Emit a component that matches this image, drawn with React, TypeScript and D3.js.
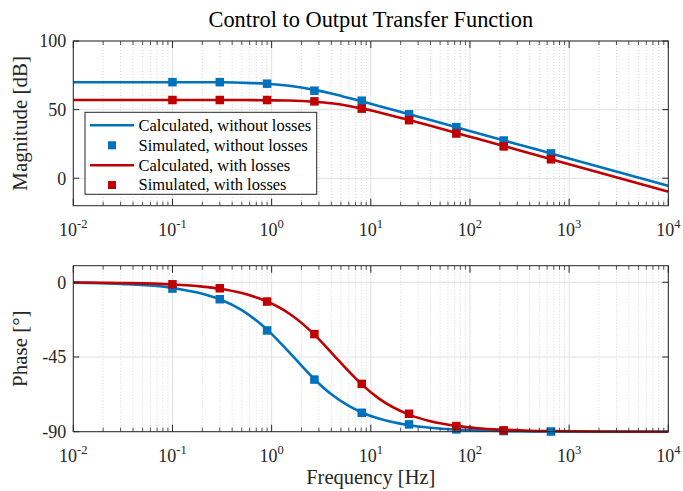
import React from 'react';
import * as d3 from 'd3';

// ---------- data ----------
const freqs = [0.01, 0.03, 0.1, 0.2, 0.3, 0.5, 0.9, 1.5, 2.7, 4, 6, 8.1, 12, 24.3, 40, 72.9, 120, 218.7, 400, 656.1, 2000, 10000];
const magCalcNoLoss = [70.0, 70.0, 70.0, 69.9, 69.9, 69.6, 68.9, 67.4, 64.4, 61.7, 58.5, 56.1, 52.7, 46.7, 42.4, 37.2, 32.8, 27.6, 22.4, 18.1, 8.4, -5.6];
const magCalcLoss = [57.0, 57.0, 57.0, 57.0, 57.0, 57.0, 56.8, 56.6, 55.7, 54.6, 52.7, 50.9, 48.1, 42.4, 38.2, 33.0, 28.7, 23.5, 18.2, 13.9, 4.2, -9.7];
const phaseCalcNoLoss = [-0.3, -1.0, -3.4, -6.9, -10.2, -16.8, -28.5, -42.1, -58.4, -67.5, -74.5, -78.4, -82.1, -86.1, -87.6, -88.7, -89.2, -89.6, -89.8, -89.9, -90.0, -90.0];
const phaseCalcLoss = [-0.1, -0.4, -1.3, -2.6, -3.9, -6.5, -11.6, -18.8, -31.5, -42.3, -53.7, -61.5, -69.9, -79.7, -83.7, -86.5, -87.9, -88.8, -89.4, -89.6, -89.9, -90.0];

const simFreqs = [0.1, 0.3, 0.9, 2.7, 8.1, 24.3, 72.9, 218.7, 656.1];
const magSimNoLoss = [70.0, 70.0, 68.9, 63.8, 56.5, 46.6, 37.2, 27.5, 18.1];
const magSimLoss = [57.0, 57.0, 57.0, 56.0, 50.7, 42.3, 32.6, 23.2, 13.8];
const phaseSimNoLoss = [-3.8, -10.2, -29.0, -58.6, -78.6, -85.6, -88.6, -89.6, -89.9];
const phaseSimFreqsLoss = [0.1, 0.3, 0.9, 2.7, 8.1, 24.3, 72.9, 218.7];
const phaseSimLoss = [-1.2, -3.6, -11.6, -31.2, -61.2, -79.2, -86.6, -89.2];

const xTickExps = [-2, -1, 0, 1, 2, 3, 4];
const magTicks = [0, 50, 100];
const phaseTicks = [-90, -45, 0];

const legendLabels = [
  'Calculated, without losses',
  'Simulated, without losses',
  'Calculated, with losses',
  'Simulated, with losses',
];

// ---------- style ----------
const BLUE = '#0072BD';
const RED = '#C00000';
const AX = '#262626';
const FONT = '"Liberation Serif", "Times New Roman", serif';

const W = 683;
const H = 491;
const L = 73.3;
const R = 668.3;

const x = d3.scaleLog().domain([1e-2, 1e4]).range([L, R]);

const minorTicks: number[] = [];
for (let e = -2; e < 4; e++) for (let k = 2; k <= 9; k++) minorTicks.push(k * Math.pow(10, e));

type Series = { xs: number[]; ys: number[] };

function Panel(props: {
  top: number;
  bottom: number;
  domain: [number, number];
  yTicks: number[];
  yLabel: string;
  lines: { s: Series; color: string }[];
  markers: { s: Series; color: string }[];
}) {
  const { top, bottom, domain, yTicks, yLabel, lines, markers } = props;
  const y = d3.scaleLinear().domain(domain).range([bottom, top]);
  const lineGen = d3
    .line<[number, number]>()
    .x((d) => x(d[0]))
    .y((d) => y(d[1]))
    .curve(d3.curveMonotoneX);
  const ms = 8.5;
  return (
    <g>
      <rect x={L} y={top} width={R - L} height={bottom - top} fill="#fff" />
      {/* minor grid */}
      {minorTicks.map((t, i) => (
        <line key={'mg' + i} x1={x(t)} x2={x(t)} y1={top} y2={bottom} stroke="#cfcfcf" strokeWidth={0.8} strokeDasharray="1,2" />
      ))}
      {/* major grid */}
      {xTickExps.map((e) => (
        <line key={'Mg' + e} x1={x(Math.pow(10, e))} x2={x(Math.pow(10, e))} y1={top} y2={bottom} stroke="#e2e2e2" strokeWidth={1} />
      ))}
      {yTicks.map((t) => (
        <line key={'yg' + t} x1={L} x2={R} y1={y(t)} y2={y(t)} stroke="#e2e2e2" strokeWidth={1} />
      ))}
      {/* lines */}
      {lines.map((l, i) => (
        <path
          key={'l' + i}
          d={lineGen(l.s.xs.map((f, j) => [f, l.s.ys[j]] as [number, number])) || ''}
          fill="none"
          stroke={l.color}
          strokeWidth={2.6}
        />
      ))}
      {markers.map((m, i) =>
        m.s.xs.map((f, j) => (
          <rect
            key={'m' + i + '-' + j}
            x={x(f) - ms / 2}
            y={y(m.s.ys[j]) - ms / 2}
            width={ms}
            height={ms}
            fill={m.color}
          />
        ))
      )}
      {/* ticks */}
      {minorTicks.map((t, i) => (
        <g key={'mt' + i}>
          <line x1={x(t)} x2={x(t)} y1={bottom} y2={bottom - 4} stroke={AX} strokeWidth={0.8} />
          <line x1={x(t)} x2={x(t)} y1={top} y2={top + 4} stroke={AX} strokeWidth={0.8} />
        </g>
      ))}
      {xTickExps.map((e) => (
        <g key={'Mt' + e}>
          <line x1={x(Math.pow(10, e))} x2={x(Math.pow(10, e))} y1={bottom} y2={bottom - 7} stroke={AX} strokeWidth={1} />
          <line x1={x(Math.pow(10, e))} x2={x(Math.pow(10, e))} y1={top} y2={top + 7} stroke={AX} strokeWidth={1} />
        </g>
      ))}
      {yTicks.map((t) => (
        <g key={'yt' + t}>
          <line x1={L} x2={L + 6} y1={y(t)} y2={y(t)} stroke={AX} strokeWidth={1} />
          <line x1={R} x2={R - 6} y1={y(t)} y2={y(t)} stroke={AX} strokeWidth={1} />
          <text x={L - 7} y={y(t)} dy="0.35em" textAnchor="end" fontSize={18} fill={AX} fontFamily={FONT}>
            {t}
          </text>
        </g>
      ))}
      {/* box */}
      <rect x={L} y={top} width={R - L} height={bottom - top} fill="none" stroke={AX} strokeWidth={1} />
      {/* x tick labels */}
      {xTickExps.map((e) => (
        <text key={'xl' + e} x={x(Math.pow(10, e))} y={bottom + 30.5} textAnchor="middle" fontSize={18} fill={AX} fontFamily={FONT}>
          <tspan>10</tspan>
          <tspan dy={-8.5} fontSize={12.5}>{String(e)}</tspan>
        </text>
      ))}
      {/* y label */}
      <text
        transform={`translate(27,${(top + bottom) / 2}) rotate(-90)`}
        textAnchor="middle"
        fontSize={21}
        fill={AX}
        fontFamily={FONT}
      >
        {yLabel}
      </text>
    </g>
  );
}

function Legend() {
  const bx = 85;
  const by = 112.3;
  const bw = 231.7;
  const bh = 82;
  const rows = [125.3, 145.3, 165.3, 185];
  const colors = [BLUE, BLUE, RED, RED];
  return (
    <g>
      <rect x={bx} y={by} width={bw} height={bh} fill="#fff" stroke={AX} strokeWidth={1} />
      {legendLabels.map((lab, i) => (
        <g key={lab}>
          {i % 2 === 0 ? (
            <line x1={90} x2={134} y1={rows[i]} y2={rows[i]} stroke={colors[i]} strokeWidth={2.6} />
          ) : (
            <rect x={112 - 4} y={rows[i] - 4} width={8} height={8} fill={colors[i]} />
          )}
          <text x={138.5} y={rows[i]} dy="0.33em" fontSize={16.5} fill="#000" fontFamily={FONT}>
            {lab}
          </text>
        </g>
      ))}
    </g>
  );
}

export default function App() {
  return (
    <svg
      width={W}
      height={H}
      viewBox={`0 0 ${W} ${H}`}
      style={{ position: 'absolute', left: 0, top: 0, background: '#fff' }}
    >
      <rect x={0} y={0} width={W} height={H} fill="#fff" />
      <text x={(L + R) / 2} y={27} textAnchor="middle" fontSize={22.4} fill="#000" fontFamily={FONT}>
        Control to Output Transfer Function
      </text>
      <Panel
        top={41}
        bottom={205.7}
        domain={[-20, 100]}
        yTicks={magTicks}
        yLabel="Magnitude [dB]"
        lines={[
          { s: { xs: freqs, ys: magCalcNoLoss }, color: BLUE },
          { s: { xs: freqs, ys: magCalcLoss }, color: RED },
        ]}
        markers={[
          { s: { xs: simFreqs, ys: magSimNoLoss }, color: BLUE },
          { s: { xs: simFreqs, ys: magSimLoss }, color: RED },
        ]}
      />
      <Legend />
      <Panel
        top={265.7}
        bottom={431.7}
        domain={[-90, 10]}
        yTicks={phaseTicks}
        yLabel="Phase [°]"
        lines={[
          { s: { xs: freqs, ys: phaseCalcNoLoss }, color: BLUE },
          { s: { xs: freqs, ys: phaseCalcLoss }, color: RED },
        ]}
        markers={[
          { s: { xs: simFreqs, ys: phaseSimNoLoss }, color: BLUE },
          { s: { xs: phaseSimFreqsLoss, ys: phaseSimLoss }, color: RED },
        ]}
      />
      <text x={(L + R) / 2} y={483.5} textAnchor="middle" fontSize={20.5} fill={AX} fontFamily={FONT}>
        Frequency [Hz]
      </text>
    </svg>
  );
}
